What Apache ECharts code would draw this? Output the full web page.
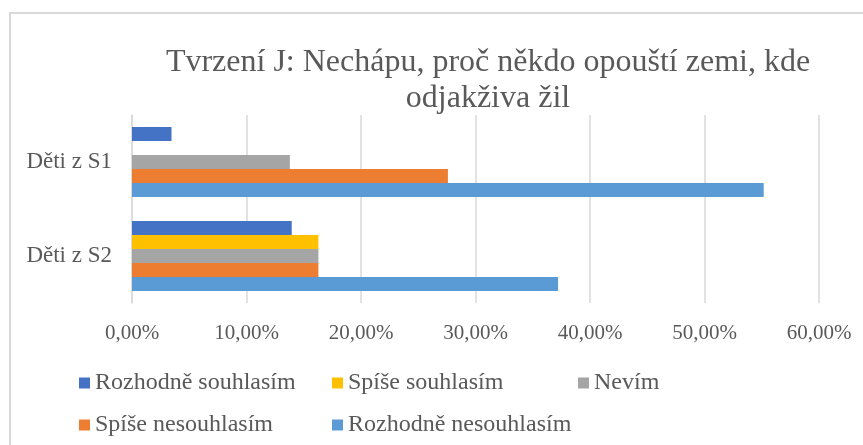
<!DOCTYPE html>
<html>
<head>
<meta charset="utf-8">
<script src="https://cdn.jsdelivr.net/npm/echarts@6/dist/echarts.min.js"></script>
<style>
  html, body { margin: 0; padding: 0; background: #ffffff; }
  #frame {
    position: absolute; left: 9px; top: 12px;
    width: 900px; height: 480px;
    border: 2px solid #d9d9d9;
    box-sizing: border-box;
  }
  #main { position: absolute; left: 0; top: 0; width: 863px; height: 445px; }
</style>
</head>
<body>
<div id="frame"></div>
<div id="main"></div>
<script>
// data
const categories = ['Děti z S2', 'Děti z S1'];
const seriesNames = ['Rozhodně souhlasím', 'Spíše souhlasím', 'Nevím', 'Spíše nesouhlasím', 'Rozhodně nesouhlasím'];
const rozhodneSouhlasim = [13.95, 3.45];
const spiseSouhlasim = [16.28, 0];
const nevim = [16.28, 13.79];
const spiseNesouhlasim = [16.28, 27.59];
const rozhodneNesouhlasim = [37.21, 55.17];
const xTicks = [0, 10, 20, 30, 40, 50, 60];

const colors = {
  'Rozhodně souhlasím': '#4472C4',
  'Spíše souhlasím': '#FFC000',
  'Nevím': '#A5A5A5',
  'Spíše nesouhlasím': '#ED7D31',
  'Rozhodně nesouhlasím': '#5B9BD5'
};

// legend slots (left, top) in the same order as seriesNames
const legendPos = [[74, 366], [327, 366], [573, 366], [74, 408], [327, 408]];

const font = "'Liberation Serif', 'Times New Roman', serif";
const txt = '#595959';

function bar(name, data) {
  return {
    name: name,
    type: 'bar',
    data: data,
    barWidth: 14,
    barGap: '0%',
    itemStyle: { color: colors[name] },
    emphasis: { disabled: true }
  };
}

const chart = echarts.init(document.getElementById('main'));
chart.setOption({
  animation: false,
  title: {
    text: 'Tvrzení J: Nechápu, proč někdo opouští zemi, kde\nodjakživa žil',
    left: 483,
    textAlign: 'center',
    top: 40,
    textStyle: { color: txt, fontFamily: font, fontSize: 32, fontWeight: 'normal', lineHeight: 36 }
  },
  legend: seriesNames.map((n, i) => ({
    data: [n],
    left: legendPos[i][0], top: legendPos[i][1],
    itemWidth: 11, itemHeight: 11, itemGap: 4,
    icon: 'rect',
    textStyle: { color: txt, fontFamily: font, fontSize: 24 }
  })),
  grid: { left: 132, right: 44, top: 115, bottom: 142 },
  xAxis: {
    type: 'value',
    min: xTicks[0],
    max: xTicks[xTicks.length - 1],
    interval: 10,
    axisLine: { show: false },
    axisTick: { show: false },
    splitLine: { lineStyle: { color: '#d9d9d9', width: 1.5 } },
    axisLabel: {
      color: txt, fontFamily: font, fontSize: 21, margin: 20,
      formatter: v => v.toFixed(2).replace('.', ',') + '%'
    }
  },
  yAxis: {
    type: 'category',
    data: categories,
    axisLine: { show: true, lineStyle: { color: '#d9d9d9', width: 1.5 } },
    axisTick: { show: false },
    axisLabel: { color: txt, fontFamily: font, fontSize: 23, margin: 20 }
  },
  series: [
    bar('Rozhodně souhlasím', rozhodneSouhlasim),
    bar('Spíše souhlasím', spiseSouhlasim),
    bar('Nevím', nevim),
    bar('Spíše nesouhlasím', spiseNesouhlasim),
    bar('Rozhodně nesouhlasím', rozhodneNesouhlasim)
  ]
});
</script>
</body>
</html>
